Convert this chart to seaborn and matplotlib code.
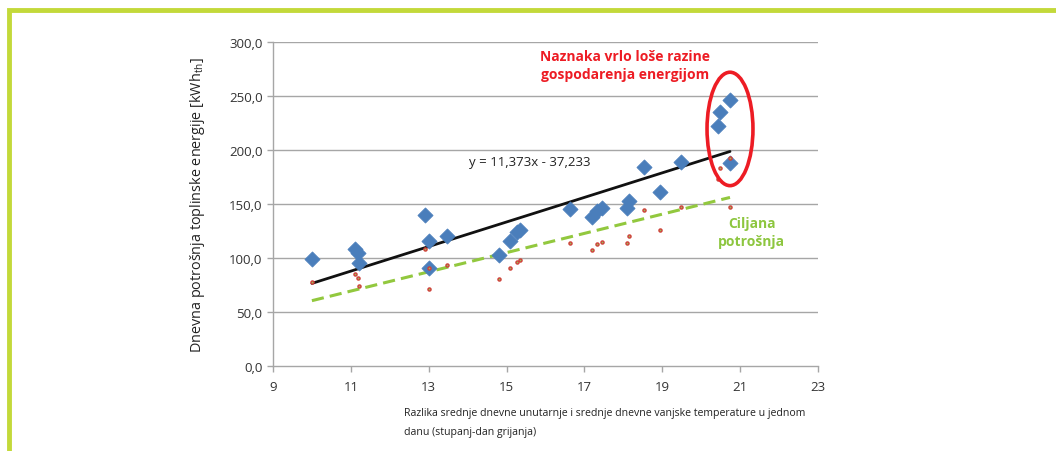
import numpy as np
import pandas as pd
import seaborn as sns
import matplotlib.pyplot as plt
from matplotlib.patches import Ellipse, Rectangle

# stupanj-dan grijanja (x) i dnevna potrosnja (y)
stupanj_dan = [10.0, 11.1, 11.18, 11.2, 12.9, 13.0, 13.0, 13.46, 14.8, 15.1,
               15.26, 15.35, 16.64, 17.2, 17.32, 17.44, 18.1, 18.14, 18.54, 18.93,
               19.49, 20.43, 20.48, 20.74, 20.74]
potrosnja = [99, 108, 104.5, 95, 140, 116, 90.5, 120, 103, 116,
             124, 126, 145.5, 138, 143.5, 146, 146, 153, 184.5, 161,
             188.5, 222, 235, 246.5, 188]
ciljana = [77.5, 85, 81.5, 74, 108, 90.5, 71, 93.5, 80.5, 90.5,
           96.5, 98, 114, 107.5, 113, 114.5, 114, 120, 144, 125.5,
           147, 173, 183, 192.5, 147]

# linija trenda i ciljana linija
trend_k, trend_l = 11.373, -37.233
cilj_k, cilj_l = 8.9, -28.5
x_od, x_do = 10.0, 20.74

y_ticks = [0, 50, 100, 150, 200, 250, 300]
x_ticks = [9, 11, 13, 15, 17, 19, 21, 23]

df = pd.DataFrame({'x': stupanj_dan, 'y': potrosnja, 'cilj': ciljana})
linije = pd.DataFrame({'x': [x_od, x_do]})
linije['trend'] = trend_k * linije['x'] + trend_l
linije['cilj'] = cilj_k * linije['x'] + cilj_l

sns.set_style('white')
plt.rcParams['font.family'] = ['Open Sans', 'DejaVu Sans']

fig = plt.figure(figsize=(10.56, 4.52), dpi=100)
ax = fig.add_axes([0.2585, 0.188, 0.5161, 0.7169])

# zeleni okvir
fig.patches.append(Rectangle((0.0085, -0.05), 1.5, 1.025, transform=fig.transFigure,
                             fill=False, edgecolor='#c3d93a', linewidth=3.5))

gray = '#a6a6a6'
for v in y_ticks[1:]:
    ax.axhline(v, color=gray, linewidth=1, zorder=0)

sns.lineplot(data=linije, x='x', y='trend', ax=ax, color='#111111', linewidth=2, zorder=2)
sns.lineplot(data=linije, x='x', y='cilj', ax=ax, color='#92c83e', linewidth=2.2,
             linestyle=(0, (4, 2)), zorder=2)
sns.scatterplot(data=df, x='x', y='y', ax=ax, marker='D', s=60, color='#4a7ebb',
                edgecolor='#4a7ebb', linewidth=0.5, zorder=3)
sns.scatterplot(data=df, x='x', y='cilj', ax=ax, marker='o', s=5, color='#9bbb59',
                edgecolor='#d0403a', linewidth=1, zorder=4)

ax.add_patch(Ellipse((20.74, 219.5), 1.18, 105, fill=False, edgecolor='#ed1c24',
                     linewidth=2.6, zorder=5))

ax.text(15.6, 189, 'y = 11,373x - 37,233', ha='center', va='center', fontsize=9.5,
        color='#222222')
ax.text(18.05, 279, 'Naznaka vrlo loše razine\ngospodarenja energijom', ha='center',
        va='center', fontsize=10, fontweight='bold', color='#ed1c24', linespacing=1.35)
ax.text(21.3, 124, 'Ciljana\npotrošnja', ha='center', va='center', fontsize=10,
        fontweight='bold', color='#8dc63f', linespacing=1.3)

ax.set_xlim(9, 23)
ax.set_ylim(0, 300)
ax.set_xticks(x_ticks)
ax.set_yticks(y_ticks)
ax.set_yticklabels([f'{v:.1f}'.replace('.', ',') for v in y_ticks])
ax.tick_params(axis='both', which='both', direction='out', length=4, width=1,
               color=gray, labelsize=9.5, labelcolor='#333333', bottom=True, left=True)
ax.tick_params(axis='x', pad=6)

for s in ['top', 'right']:
    ax.spines[s].set_visible(False)
for s in ['left', 'bottom']:
    ax.spines[s].set_color(gray)
    ax.spines[s].set_linewidth(1)

ax.set_xlabel('')
ax.set_ylabel('Dnevna potrošnja toplinske energije [kWh$_{\\mathregular{th}}$]', fontsize=10.4,
              color='#222222', labelpad=16)
fig.text(404 / 1056, 1 - 423 / 452,
         'Razlika srednje dnevne unutarnje i srednje dnevne vanjske temperature u jednom\n'
         'danu (stupanj-dan grijanja)', ha='left', va='center', fontsize=7.6,
         color='#222222', linespacing=1.9)

fig.savefig('out.png', dpi=100)
